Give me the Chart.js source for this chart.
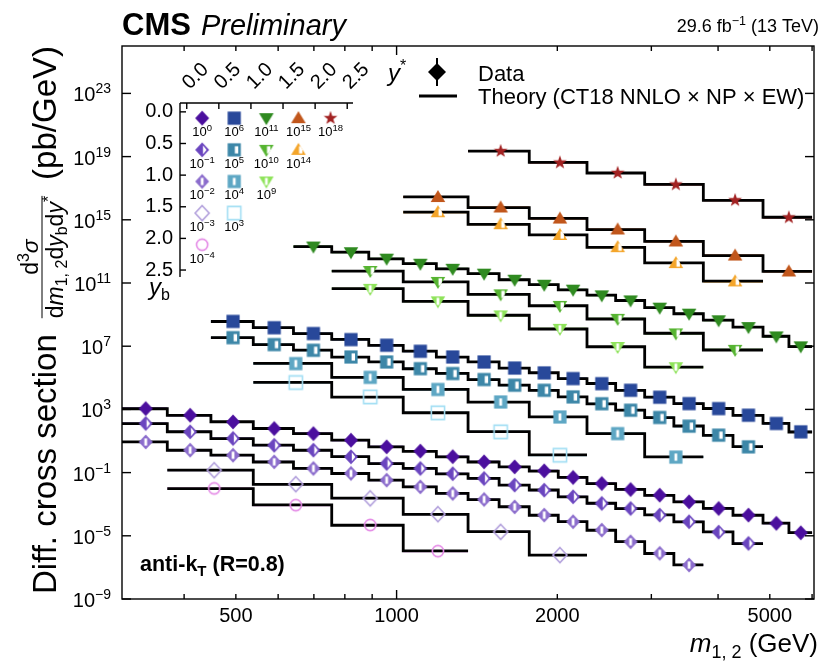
<!DOCTYPE html>
<html><head><meta charset="utf-8">
<script src="https://cdn.jsdelivr.net/npm/chart.js@4.4.1/dist/chart.umd.min.js"></script>
<style>
html,body{margin:0;padding:0;background:#fff;}
#wrap{position:relative;width:822px;height:662px;overflow:hidden;}
#main{position:absolute;left:0;top:0;}
#inset{position:absolute;left:120px;top:40px;}
</style></head><body>
<div id="wrap"><canvas id="main" width="822" height="662"></canvas><canvas id="inset" width="300" height="270"></canvas></div>
<script>
// Dijet mass bin edges (GeV): fine binning and the merged (every-other-edge) binning
const massEdgesFine = [306, 372, 449, 539, 641, 756, 887, 1029, 1187, 1361, 1556, 1772, 2008, 2273, 2572, 2915, 3306, 3754, 4266, 4856, 5430, 6000];
const massEdgesCoarse = [372, 539, 756, 1029, 1361, 1772, 2273, 2915, 3754, 4856, 6000];

// Measured cross sections (pb/GeV), unscaled, per (y*, yb) bin
const dataYs00Yb00 = [1120, 427, 162, 61.7, 29.5, 11.2, 4.27, 2.29, 1.02, 0.479, 0.229, 0.129, 0.0490, 0.0204, 0.00851, 0.00372, 0.00141, 0.000537, 0.000204, 0.0000617, 0.0000155];
const dataYs00Yb05 = [1290, 380, 145, 53.7, 26.3, 10.0, 3.80, 1.82, 0.85, 0.427, 0.162, 0.0776, 0.0295, 0.0112, 0.00537, 0.00204, 0.000776, 0.000172, 0.0000331];
const dataYs00Yb10 = [871, 263, 126, 47.9, 18.2, 8.91, 3.31, 1.26, 0.479, 0.200, 0.0676, 0.0204, 0.00776, 0.00229, 0.000417, 0.0000776, 0.0000141];
const dataYs00Yb15 = [141, 18.6, 2.34, 0.234, 0.0178, 0.000603];
const dataYs00Yb20 = [100, 8.71, 0.479, 0.0107];
const dataYs05Yb00 = [372, 148, 63.1, 26.3, 11.5, 4.79, 2.09, 1.00, 0.417, 0.204, 0.0891, 0.0427, 0.0162, 0.00589, 0.00234, 0.00112, 0.000427, 0.000129, 0.0000380];
const dataYs05Yb05 = [347, 126, 55.0, 20.9, 10.0, 3.80, 1.86, 0.776, 0.339, 0.162, 0.0617, 0.0229, 0.00891, 0.00309, 0.000871, 0.000234, 0.0000427];
const dataYs05Yb10 = [79.4, 10.7, 1.82, 0.295, 0.0331, 0.00295, 0.0000955];
const dataYs05Yb15 = [50.1, 6.17, 0.603, 0.0380, 0.00126];
const dataYs10Yb00 = [204, 89.1, 34.7, 16.6, 7.94, 3.89, 1.62, 0.776, 0.380, 0.166, 0.0794, 0.0275, 0.0115, 0.00437, 0.00162, 0.000417, 0.0000977];
const dataYs10Yb05 = [57.5, 11.7, 1.91, 0.355, 0.0537, 0.00646, 0.000589];
const dataYs10Yb10 = [42.7, 6.92, 0.891, 0.126, 0.00891, 0.000468];
const dataYs15Yb00 = [27.5, 6.03, 1.20, 0.245, 0.0427, 0.00550, 0.000537];
const dataYs15Yb05 = [30.2, 5.25, 1.10, 0.186, 0.0182, 0.00126];
const dataYs20Yb00 = [22.4, 4.17, 0.933, 0.170, 0.0174, 0.00141];

// Theory predictions (CT18 NNLO x NP x EW), pb/GeV, same binning
const theoYs00Yb00 = [1100, 420, 165, 62.0, 29.0, 11.5, 4.30, 2.20, 1.00, 0.470, 0.230, 0.125, 0.0500, 0.0200, 0.00870, 0.00360, 0.00140, 0.000550, 0.000200, 0.0000630, 0.0000160];
const theoYs00Yb05 = [1260, 385, 142, 55.0, 26.0, 10.2, 3.75, 1.85, 0.83, 0.430, 0.160, 0.0790, 0.0290, 0.0115, 0.00530, 0.00210, 0.000760, 0.000175, 0.0000320];
const theoYs00Yb10 = [880, 260, 128, 47.0, 18.5, 8.80, 3.35, 1.24, 0.490, 0.195, 0.0690, 0.0200, 0.00790, 0.00225, 0.000430, 0.0000760, 0.0000145];
const theoYs00Yb15 = [145, 18.2, 2.40, 0.228, 0.0182, 0.000590];
const theoYs00Yb20 = [98, 9.0, 0.465, 0.0110];
const theoYs05Yb00 = [365, 150, 62.0, 26.8, 11.3, 4.85, 2.05, 1.02, 0.410, 0.208, 0.0875, 0.0435, 0.0160, 0.00600, 0.00230, 0.00114, 0.000420, 0.000131, 0.0000370];
const theoYs05Yb05 = [352, 124, 56.0, 20.5, 10.2, 3.75, 1.88, 0.760, 0.345, 0.159, 0.0625, 0.0225, 0.00905, 0.00300, 0.000890, 0.000230, 0.0000440];
const theoYs05Yb10 = [81.0, 10.5, 1.85, 0.290, 0.0340, 0.00290, 0.0000980];
const theoYs05Yb15 = [52.0, 6.05, 0.615, 0.0395, 0.00132];
const theoYs10Yb00 = [200, 90.5, 34.0, 16.9, 7.80, 3.95, 1.60, 0.790, 0.372, 0.170, 0.0780, 0.0280, 0.0113, 0.00445, 0.00160, 0.000425, 0.0000950];
const theoYs10Yb05 = [56.0, 11.9, 1.88, 0.362, 0.0528, 0.00660, 0.000575];
const theoYs10Yb10 = [44.0, 6.80, 0.910, 0.123, 0.00920, 0.000480];
const theoYs15Yb00 = [28.0, 5.95, 1.22, 0.240, 0.0435, 0.00540, 0.000550];
const theoYs15Yb05 = [30.8, 5.15, 1.12, 0.182, 0.0188, 0.00131];
const theoYs20Yb00 = [22.0, 4.25, 0.915, 0.174, 0.0170, 0.00145];

// Axis tick values
const yTickValues = [1e-9, 1e-5, 1e-1, 1e3, 1e7, 1e11, 1e15, 1e19, 1e23];
const xLabelValues = [500, 1000, 2000, 5000];
const xMinorTickValues = [400, 500, 600, 700, 800, 900, 2000, 3000, 4000, 5000, 6000];
const xMajorTickValues = [1000];
const rapidityTickValues = [0, 0.5, 1.0, 1.5, 2.0, 2.5];

const FF = '"Liberation Sans", Arial, Helvetica, sans-serif';
Chart.defaults.font.family = FF;

// Marker images
function makeMarker(shape, fill, color) {
  const S = 20, m = S / 2;
  const c = document.createElement('canvas');
  c.width = S; c.height = S;
  const g = c.getContext('2d');
  const path = () => {
    g.beginPath();
    if (shape === 'diamond') { g.moveTo(m, m - 7.5); g.lineTo(m + 7, m); g.lineTo(m, m + 7.5); g.lineTo(m - 7, m); g.closePath(); }
    else if (shape === 'square') { g.rect(m - 6.6, m - 6.6, 13.2, 13.2); }
    else if (shape === 'triDown') { g.moveTo(m - 7.3, m - 5); g.lineTo(m + 7.3, m - 5); g.lineTo(m, m + 7); g.closePath(); }
    else if (shape === 'triUp') { g.moveTo(m - 7.3, m + 5); g.lineTo(m + 7.3, m + 5); g.lineTo(m, m - 7); g.closePath(); }
    else if (shape === 'circle') { g.arc(m, m, 5.6, 0, Math.PI * 2); }
    else if (shape === 'star') {
      for (let k = 0; k < 10; k++) {
        const r = k % 2 ? 2.9 : 7.2, a = -Math.PI / 2 + k * Math.PI / 5;
        const px = m + r * Math.cos(a), py = m + r * Math.sin(a);
        k ? g.lineTo(px, py) : g.moveTo(px, py);
      }
      g.closePath();
    }
  };
  g.lineWidth = 1.6;
  g.strokeStyle = color;
  g.fillStyle = color;
  path();
  if (fill === 'none') { g.stroke(); return c; }
  g.fill();
  if (fill === 'right' || fill === 'center') {
    g.save(); path(); g.clip();
    g.fillStyle = '#fff';
    if (fill === 'right' && shape === 'diamond') {
      g.beginPath(); g.moveTo(m + 0.8, m - 4.6); g.lineTo(m + 4.4, m); g.lineTo(m + 0.8, m + 4.6); g.closePath(); g.fill();
    } else if (fill === 'right') g.fillRect(m + 0.6, m - 3.6, 3.4, 7.2);
    else g.fillRect(m - 1.4, m - 3.6, 2.8, 7.2);
    g.restore();
  }
  return c;
}

const SERIES = [
  { ystar: 0.0, yb: 0.0, exp: 0,   edges: massEdgesFine,   first: 0, data: dataYs00Yb00, theory: theoYs00Yb00, color: '#4b0f9e', shape: 'diamond', fill: 'full' },
  { ystar: 0.0, yb: 0.5, exp: -1,  edges: massEdgesFine,   first: 0, data: dataYs00Yb05, theory: theoYs00Yb05, color: '#6a45bf', shape: 'diamond', fill: 'right' },
  { ystar: 0.0, yb: 1.0, exp: -2,  edges: massEdgesFine,   first: 0, data: dataYs00Yb10, theory: theoYs00Yb10, color: '#8b6ccc', shape: 'diamond', fill: 'center' },
  { ystar: 0.0, yb: 1.5, exp: -3,  edges: massEdgesCoarse, first: 0, data: dataYs00Yb15, theory: theoYs00Yb15, color: '#b2a0dc', shape: 'diamond', fill: 'none' },
  { ystar: 0.0, yb: 2.0, exp: -4,  edges: massEdgesCoarse, first: 0, data: dataYs00Yb20, theory: theoYs00Yb20, color: '#e48ae6', shape: 'circle', fill: 'none' },
  { ystar: 0.5, yb: 0.0, exp: 6,   edges: massEdgesFine,   first: 2, data: dataYs05Yb00, theory: theoYs05Yb00, color: '#28489a', shape: 'square', fill: 'full' },
  { ystar: 0.5, yb: 0.5, exp: 5,   edges: massEdgesFine,   first: 2, data: dataYs05Yb05, theory: theoYs05Yb05, color: '#3d87a8', shape: 'square', fill: 'right' },
  { ystar: 0.5, yb: 1.0, exp: 4,   edges: massEdgesCoarse, first: 1, data: dataYs05Yb10, theory: theoYs05Yb10, color: '#5ea7c4', shape: 'square', fill: 'center' },
  { ystar: 0.5, yb: 1.5, exp: 3,   edges: massEdgesCoarse, first: 1, data: dataYs05Yb15, theory: theoYs05Yb15, color: '#a4dff4', shape: 'square', fill: 'none' },
  { ystar: 1.0, yb: 0.0, exp: 11,  edges: massEdgesFine,   first: 4, data: dataYs10Yb00, theory: theoYs10Yb00, color: '#2f8a20', shape: 'triDown', fill: 'full' },
  { ystar: 1.0, yb: 0.5, exp: 10,  edges: massEdgesCoarse, first: 2, data: dataYs10Yb05, theory: theoYs10Yb05, color: '#56b431', shape: 'triDown', fill: 'right' },
  { ystar: 1.0, yb: 1.0, exp: 9,   edges: massEdgesCoarse, first: 2, data: dataYs10Yb10, theory: theoYs10Yb10, color: '#8fe35b', shape: 'triDown', fill: 'center' },
  { ystar: 1.5, yb: 0.0, exp: 15,  edges: massEdgesCoarse, first: 3, data: dataYs15Yb00, theory: theoYs15Yb00, color: '#c1561b', shape: 'triUp', fill: 'full' },
  { ystar: 1.5, yb: 0.5, exp: 14,  edges: massEdgesCoarse, first: 3, data: dataYs15Yb05, theory: theoYs15Yb05, color: '#f4a52a', shape: 'triUp', fill: 'right' },
  { ystar: 2.0, yb: 0.0, exp: 18,  edges: massEdgesCoarse, first: 4, data: dataYs20Yb00, theory: theoYs20Yb00, color: '#a22222', shape: 'star', fill: 'full' }
];
SERIES.forEach(s => { s.marker = makeMarker(s.shape, s.fill, s.color); });

// Build datasets: data x-extent bars, theory step histogram, data markers at bin centres
const datasets = [];
SERIES.forEach(s => {
  const f = Math.pow(10, s.exp);
  const e = s.edges.slice(s.first, s.first + s.data.length + 1);
  const bars = [];
  s.data.forEach((v, i) => { bars.push({ x: e[i], y: v * f }, { x: e[i + 1], y: v * f }, { x: e[i + 1], y: null }); });
  datasets.push({ type: 'line', data: bars, borderColor: s.color, borderWidth: 2, pointRadius: 0, spanGaps: false, order: 3 });
  const steps = s.theory.map((v, i) => ({ x: e[i], y: v * f }));
  steps.push({ x: e[e.length - 1], y: s.theory[s.theory.length - 1] * f });
  datasets.push({ type: 'line', data: steps, stepped: 'before', borderColor: '#000', borderWidth: 2.8, pointRadius: 0, order: 2 });
  datasets.push({ type: 'scatter', data: s.data.map((v, i) => ({ x: (e[i] + e[i + 1]) / 2, y: v * f })),
    pointStyle: s.marker, pointRadius: 7, order: 1 });
});

function line(ctx, x1, y1, x2, y2) { ctx.beginPath(); ctx.moveTo(x1, y1); ctx.lineTo(x2, y2); ctx.stroke(); }

// Draws runs of text [{t, f, dy}] left to right from x on baseline y; returns total width
function runs(ctx, list, x, y, measureOnly) {
  let w = 0;
  list.forEach(r => {
    ctx.font = r.f;
    if (!measureOnly) ctx.fillText(r.t, x + w, y + (r.dy || 0));
    w += ctx.measureText(r.t).width + (r.sp || 0);
  });
  return w;
}

function powRuns(e, bs, es, raise) {
  const t = e < 0 ? '\u2212' + (-e) : String(e);
  return [{ t: '10', f: `${bs}px ${FF}` }, { t, f: `${es}px ${FF}`, dy: -raise }];
}

const mainDecor = {
  id: 'mainDecor',
  afterDraw(chart) {
    const { ctx, chartArea: a, scales: { x, y } } = chart;
    ctx.save();
    ctx.strokeStyle = '#000'; ctx.fillStyle = '#000';
    ctx.lineWidth = 1.4;
    ctx.strokeRect(a.left, a.top, a.right - a.left, a.bottom - a.top);
    // inward ticks
    xMinorTickValues.forEach(v => { const p = x.getPixelForValue(v); line(ctx, p, a.bottom, p, a.bottom - 5); line(ctx, p, a.top, p, a.top + 5); });
    xMajorTickValues.forEach(v => { const p = x.getPixelForValue(v); line(ctx, p, a.bottom, p, a.bottom - 9); line(ctx, p, a.top, p, a.top + 9); });
    yTickValues.forEach(v => { const p = y.getPixelForValue(v); line(ctx, a.left, p, a.left + 9, p); line(ctx, a.right, p, a.right - 9, p); });
    // y tick labels
    ctx.textBaseline = 'alphabetic'; ctx.textAlign = 'left';
    yTickValues.forEach(v => {
      const p = y.getPixelForValue(v);
      const r = powRuns(Math.round(Math.log10(v)), 20, 14, 8);
      const w = runs(ctx, r, 0, 0, true);
      runs(ctx, r, 111 - w, p + 8);
    });
    // y-axis title (rotated, aligned to the top of the axis)
    ctx.save();
    const big = `33px ${FF}`;
    const sm = `23px ${FF}`, smi = `italic 23px ${FF}`, tiny = `16px ${FF}`;
    const num = [{ t: 'd', f: sm }, { t: '3', f: tiny, dy: -9 }, { t: '\u03c3', f: smi }];
    const den = [{ t: 'd', f: sm }, { t: 'm', f: smi }, { t: '1, 2', f: tiny, dy: 4 }, { t: 'd', f: sm }, { t: 'y', f: smi }, { t: 'b', f: tiny, dy: 4 }, { t: 'd', f: sm }, { t: 'y', f: smi }, { t: '*', f: tiny, dy: -9 }];
    ctx.font = big;
    const w1 = ctx.measureText('Diff. cross section').width;
    const w3 = ctx.measureText('(pb/GeV)').width;
    const wn = runs(ctx, num, 0, 0, true), wd = runs(ctx, den, 0, 0, true);
    const gap = 16;
    const total = w1 + gap + wd + gap + w3;
    ctx.translate(56, a.top + total); ctx.rotate(-Math.PI / 2);
    ctx.font = big;
    ctx.fillText('Diff. cross section', 0, 0);
    ctx.fillText('(pb/GeV)', total - w3, 0);
    const mid = w1 + gap + wd / 2;
    runs(ctx, num, mid - wn / 2, -18);
    runs(ctx, den, mid - wd / 2, 7);
    ctx.lineWidth = 1; line(ctx, mid - wd / 2, -14, mid + wd / 2, -14);
    ctx.restore();
    // x-axis title
    const xt = [{ t: 'm', f: `italic 26px ${FF}` }, { t: '1, 2', f: `18px ${FF}`, dy: 6 }, { t: ' (GeV)', f: `26px ${FF}` }];
    const wx = runs(ctx, xt, 0, 0, true);
    runs(ctx, xt, 818 - wx, 652);
    // header
    ctx.font = `bold 31px ${FF}`; ctx.fillText('CMS', 122, 35);
    const wc = ctx.measureText('CMS').width;
    ctx.font = `italic 29px ${FF}`; ctx.fillText('Preliminary', 122 + wc + 10, 35);
    const lumi = [{ t: '29.6 fb', f: `18px ${FF}` }, { t: '\u22121', f: `12.5px ${FF}`, dy: -7 }, { t: ' (13 TeV)', f: `18px ${FF}` }];
    const wl = runs(ctx, lumi, 0, 0, true);
    runs(ctx, lumi, 819 - wl, 32);
    // legend
    ctx.beginPath(); ctx.moveTo(437, 63); ctx.lineTo(446, 72); ctx.lineTo(437, 81); ctx.lineTo(428, 72); ctx.closePath(); ctx.fill();
    ctx.lineWidth = 2; line(ctx, 437, 58, 437, 86);
    ctx.lineWidth = 3; line(ctx, 419, 96, 457, 96);
    ctx.font = `22px ${FF}`;
    ctx.fillText('Data', 478, 81);
    ctx.fillText('Theory (CT18 NNLO \u00d7 NP \u00d7 EW)', 478, 104);
    // jet algorithm label
    runs(ctx, [{ t: 'anti-k', f: `bold 21.5px ${FF}` }, { t: 'T', f: `bold 15px ${FF}`, dy: 5 }, { t: ' (R=0.8)', f: `bold 21.5px ${FF}` }], 140, 571);
    ctx.restore();
  }
};

new Chart(document.getElementById('main'), {
  type: 'scatter',
  data: { datasets },
  options: {
    responsive: false, animation: false, events: [],
    layout: { padding: { left: 0, top: 46, right: 2, bottom: 0 } },
    plugins: { legend: { display: false }, tooltip: { enabled: false } },
    scales: {
      x: {
        type: 'logarithmic', min: 306, max: 6050,
        afterBuildTicks: sc => { sc.ticks = xLabelValues.map(v => ({ value: v })); },
        afterFit: sc => { sc.height = 63; },
        ticks: { autoSkip: false, maxRotation: 0, font: { size: 20 }, color: '#000', padding: 5, callback: v => String(v) },
        grid: { display: false, drawTicks: false }, border: { display: false }
      },
      y: {
        type: 'logarithmic', min: 1e-9, max: 1e26,
        afterBuildTicks: sc => { sc.ticks = yTickValues.map(v => ({ value: v })); },
        afterFit: sc => { sc.width = 122; },
        ticks: { display: false },
        grid: { display: false, drawTicks: false }, border: { display: false }
      }
    }
  },
  plugins: [mainDecor]
});

// Inset: marker key laid out on a (y*, yb) grid
const insetDecor = {
  id: 'insetDecor',
  afterDraw(chart) {
    const { ctx, chartArea: a, scales: { x, y } } = chart;
    ctx.save();
    ctx.strokeStyle = '#000'; ctx.fillStyle = '#000'; ctx.lineWidth = 1.4;
    line(ctx, a.left, a.top, a.right, a.top);
    line(ctx, a.left, a.top, a.left, a.bottom);
    rapidityTickValues.forEach(v => {
      const px = x.getPixelForValue(v); line(ctx, px, a.top, px, a.top + 6);
      const py = y.getPixelForValue(v); line(ctx, a.left, py, a.left + 6, py);
    });
    // rotated y* tick labels above the top spine
    ctx.textBaseline = 'alphabetic'; ctx.textAlign = 'left';
    ctx.font = `20px ${FF}`;
    rapidityTickValues.forEach(v => {
      const px = x.getPixelForValue(v);
      ctx.save(); ctx.translate(px + 3, a.top - 13); ctx.rotate(-Math.PI / 4);
      ctx.fillText(v.toFixed(1), 0, 0); ctx.restore();
    });
    SERIES.forEach(s => {
      const px = x.getPixelForValue(s.ystar + 0.24), py = y.getPixelForValue(s.yb + 0.1);
      const r = powRuns(s.exp, 13, 9.5, 5);
      const w = runs(ctx, r, 0, 0, true);
      runs(ctx, r, px - w / 2, py + 18);
    });
    runs(ctx, [{ t: 'y', f: `italic 24px ${FF}` }, { t: '*', f: `16px ${FF}`, dy: -10 }], 268, 41);
    runs(ctx, [{ t: 'y', f: `italic 24px ${FF}` }, { t: 'b', f: `16px ${FF}`, dy: 5 }], 29, 255);
    ctx.restore();
  }
};

new Chart(document.getElementById('inset'), {
  type: 'scatter',
  data: { datasets: SERIES.map(s => ({ data: [{ x: s.ystar + 0.24, y: s.yb + 0.1 }], pointStyle: s.marker, pointRadius: 7 })) },
  options: {
    responsive: false, animation: false, events: [],
    layout: { padding: { left: 0, top: 0, right: 67, bottom: 33 } },
    plugins: { legend: { display: false }, tooltip: { enabled: false } },
    scales: {
      x: {
        type: 'linear', position: 'top', min: -0.105, max: 2.59,
        afterBuildTicks: sc => { sc.ticks = rapidityTickValues.map(v => ({ value: v })); },
        afterFit: sc => { sc.height = 63; },
        ticks: { display: false },
        grid: { display: false, drawTicks: false }, border: { display: false }
      },
      y: {
        type: 'linear', reverse: true, min: -0.14, max: 2.61,
        afterBuildTicks: sc => { sc.ticks = rapidityTickValues.map(v => ({ value: v })); },
        afterFit: sc => { sc.width = 60; },
        ticks: { autoSkip: false, font: { size: 20 }, color: '#000', padding: 7, callback: v => v.toFixed(1) },
        grid: { display: false, drawTicks: false }, border: { display: false }
      }
    }
  },
  plugins: [insetDecor]
});
</script></body></html>
